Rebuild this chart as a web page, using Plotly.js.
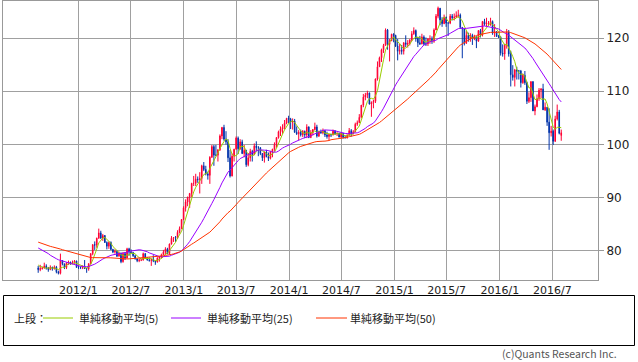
<!DOCTYPE html>
<html>
<head>
<meta charset="utf-8">
<script src="https://cdn.plot.ly/plotly-3.0.1.min.js"></script>
<style>html,body{margin:0;padding:0;background:#fff;}#chart{width:638px;height:362px;}</style>
</head>
<body>
<div id="chart"></div>
<script>
// Weekly USD/JPY candles, first week starting 2011-08-15. Rows: [open, high, low, close]
var firstWeek = '2011-08-15';
var ohlc2011 = [
[76.8,77.2,75.9,76.5],[76.5,77.4,76.2,76.7],[76.7,77.0,76.5,76.8],[76.8,77.8,76.7,77.2],
[77.2,77.5,76.5,76.8],[76.8,77.0,76.1,76.5],[76.5,77.3,76.4,77.0],[77.0,77.0,76.3,76.7],
[76.7,77.3,76.5,77.0],[77.0,77.2,75.8,76.1],[76.1,76.3,75.6,75.8],[75.8,79.5,75.6,78.2],
[78.2,78.3,77.3,77.6],[77.6,77.6,76.6,76.9],[76.9,77.9,76.6,77.7],[77.7,78.2,77.4,77.9],
[77.9,78.0,77.4,77.7],[77.7,78.2,77.5,77.8],[77.8,78.3,77.6,78.1],[78.1,78.2,76.9,76.9]
];
var ohlc2012 = [
[76.9,77.3,76.6,76.9],[76.9,77.1,76.6,76.9],[76.9,77.3,76.6,77.0],[77.0,78.3,76.9,76.7],
[76.7,76.8,75.9,76.6],[76.6,77.7,76.3,77.6],[77.6,79.6,77.5,79.5],[79.5,81.2,79.2,81.2],
[81.2,81.8,80.2,81.1],[81.1,82.5,80.6,82.4],[82.4,84.2,82.3,83.4],[83.4,83.8,82.3,82.4],
[82.4,83.2,81.9,82.9],[82.9,83.0,81.5,81.6],[81.6,81.8,80.3,80.9],[80.9,81.8,80.4,81.6],
[81.6,81.8,80.2,80.3],[80.3,80.4,79.6,79.8],[79.8,80.3,79.5,79.9],[79.9,80.1,78.9,79.0],
[79.0,79.9,79.0,79.6],[79.6,79.7,77.7,78.0],[78.0,79.8,77.8,79.5],[79.5,79.8,78.3,78.7],
[78.7,80.6,78.6,80.4],[80.4,80.6,79.1,79.8],[79.8,80.3,79.5,79.7],[79.7,79.8,78.9,79.1],
[79.1,79.3,78.4,78.5],[78.5,78.6,77.9,78.2],[78.2,78.6,77.9,78.3],[78.3,78.6,78.1,78.3],
[78.3,79.7,78.2,79.5],[79.5,79.6,78.5,78.7],[78.7,78.8,78.2,78.3],[78.3,78.8,78.0,78.2],
[78.2,78.4,77.2,78.4],[78.4,79.2,77.9,78.1],[78.1,78.2,77.4,77.9],[77.9,78.8,77.9,78.7],
[78.7,78.9,78.0,78.9],[78.9,79.5,78.6,79.3],[79.3,80.2,79.2,79.8],[79.8,80.7,79.3,80.4],
[80.4,80.6,79.4,79.5],[79.5,81.4,79.3,81.3],[81.3,82.8,81.2,82.4],[82.4,82.6,81.7,82.5],
[82.5,82.8,81.7,82.4],[82.4,83.9,82.3,83.5],[83.5,84.6,83.3,84.2],[84.2,86.0,84.1,85.9],
[85.9,88.4,85.8,88.1]
];
var ohlc2013 = [
[88.1,89.7,87.4,89.2],[89.2,90.2,88.4,90.1],[90.1,90.9,88.1,90.8],[90.8,92.8,90.1,92.7],
[92.7,94.1,92.2,92.7],[92.7,94.5,92.2,93.5],[93.5,94.0,92.8,93.4],[93.4,94.8,90.8,93.6],
[93.6,96.2,92.6,96.0],[96.0,96.7,95.0,95.3],[95.3,96.0,94.2,94.5],[94.5,94.9,93.4,94.2],
[94.2,97.8,92.6,97.6],[97.6,99.9,97.5,99.6],[99.6,99.9,96.0,98.0],[98.0,99.9,97.8,98.0],
[98.0,99.1,96.8,99.0],[99.0,101.9,98.8,101.6],[101.6,103.3,101.0,103.2],[103.2,103.7,100.7,101.0],
[101.0,102.5,100.0,100.5],[100.5,101.0,96.7,97.5],[97.5,99.0,93.8,94.1],[94.1,98.3,94.0,97.8],
[97.8,99.2,96.8,99.1],[99.1,101.5,99.1,101.2],[101.2,101.5,98.2,99.2],[99.2,101.0,99.0,100.5],
[100.5,100.9,98.2,98.3],[98.3,99.9,97.6,98.9],[98.9,99.0,95.8,96.2],[96.2,98.4,95.9,97.5],
[97.5,99.2,96.8,98.7],[98.7,99.0,96.8,98.1],[98.1,100.2,98.0,99.7],[99.7,100.6,98.8,99.4],
[99.4,99.7,97.8,99.4],[99.4,99.5,98.0,98.3],[98.3,98.4,96.9,97.5],[97.5,98.6,96.6,98.6],
[98.6,99.0,97.6,97.7],[97.7,98.5,96.9,97.4],[97.4,98.7,97.2,98.7],[98.7,99.2,97.6,99.1],
[99.1,100.4,98.8,100.0],[100.0,101.4,99.4,101.3],[101.3,102.6,101.1,102.4],[102.4,103.4,101.6,102.9],
[102.9,103.8,102.0,103.2],[103.2,104.6,102.8,104.0],[104.0,105.0,103.8,104.9],[104.9,105.4,104.0,104.8]
];
var ohlc2014 = [
[104.8,105.0,102.9,104.2],[104.2,104.9,102.8,104.4],[104.4,104.8,102.2,102.3],[102.3,103.4,101.8,102.0],
[102.0,102.7,100.8,102.3],[102.3,102.8,101.5,101.8],[101.8,102.7,101.4,102.5],[102.5,102.6,101.2,101.8],
[101.8,103.8,101.2,103.3],[103.3,103.4,101.2,101.3],[101.3,102.7,101.2,102.2],[102.2,102.9,101.7,102.8],
[102.8,104.1,102.7,103.3],[103.3,103.7,101.3,101.6],[101.6,102.6,101.4,102.4],[102.4,102.8,102.0,102.2],
[102.2,103.0,101.9,102.6],[102.6,102.7,101.4,101.8],[101.8,102.4,101.1,101.5],[101.5,102.0,100.8,101.9],
[101.9,102.0,101.4,101.8],[101.8,102.8,101.7,102.5],[102.5,102.7,101.8,102.0],[102.0,102.3,101.6,102.1],
[102.1,102.2,101.3,101.4],[101.4,102.3,101.2,102.1],[102.1,102.1,101.1,101.3],[101.3,101.7,101.1,101.3],
[101.3,101.9,101.1,101.8],[101.8,103.1,101.6,102.6],[102.6,102.9,101.5,102.0],[102.0,102.7,101.9,102.4],
[102.4,104.1,102.3,103.8],[103.8,104.5,103.5,104.1],[104.1,105.7,104.1,105.1],[105.1,107.4,104.9,107.4],
[107.4,109.5,107.0,108.9],[108.9,109.7,108.3,109.3],[109.3,110.1,108.7,109.7],[109.7,109.7,107.5,107.6],
[107.6,108.1,105.2,107.9],[107.9,108.4,106.8,108.1],[108.1,112.4,107.8,112.3],[112.3,115.6,112.0,114.6],
[114.6,116.5,114.6,116.3],[116.3,118.0,115.5,117.8],[117.8,118.9,117.2,118.6],[118.6,121.8,118.6,121.5],
[121.5,121.7,117.8,118.8],[118.8,119.8,115.6,119.5],[119.5,120.8,119.4,120.7],[120.7,120.9,119.2,120.5]
];
var ohlc2015 = [
[120.5,120.6,118.3,118.5],[118.5,119.8,115.8,117.5],[117.5,118.9,116.9,117.7],[117.7,118.7,116.9,117.5],
[117.5,119.2,116.9,119.1],[119.1,120.5,118.3,118.8],[118.8,119.6,118.2,119.0],[119.0,119.8,118.6,119.6],
[119.6,121.3,119.4,120.8],[120.8,122.0,120.6,121.4],[121.4,121.6,119.3,119.9],[119.9,120.2,118.3,119.1],
[119.1,120.4,118.7,118.9],[118.9,120.8,118.8,120.2],[120.2,120.5,118.6,118.9],[118.9,120.1,118.5,118.9],
[118.9,120.0,118.5,119.8],[119.8,120.5,118.9,119.8],[119.8,120.3,118.9,119.4],[119.4,121.8,119.1,121.5],
[121.5,124.5,121.5,124.1],[124.1,125.9,123.7,125.6],[125.6,125.6,122.4,123.4],[123.4,123.9,122.1,122.7],
[122.7,124.4,122.6,123.9],[123.9,124.0,122.1,122.8],[122.8,123.0,120.4,122.8],[122.8,124.5,122.6,124.1],
[124.1,124.5,123.3,123.8],[123.8,124.6,123.3,123.9],[123.9,125.0,123.8,124.2],[124.2,125.3,123.8,124.3],
[124.3,124.6,121.7,122.0],[122.0,122.0,116.2,121.7],[121.7,121.7,118.6,119.0],[119.0,121.3,118.9,120.5],
[120.5,121.0,119.3,120.0],[120.0,120.9,119.3,120.5],[120.5,120.8,118.7,119.9],[119.9,120.6,119.6,120.2],
[120.2,120.3,118.1,119.4],[119.4,121.5,119.3,121.4],[121.4,121.7,120.1,120.6],[120.6,123.2,120.3,123.1],
[123.1,123.6,122.3,122.6],[122.6,123.8,122.2,122.8],[122.8,123.2,122.3,122.8],[122.8,123.8,122.3,123.1],
[123.1,123.3,120.6,120.9],[120.9,122.6,120.2,121.2],[121.2,121.3,120.2,120.3],[120.3,120.6,120.0,120.2]
];
var ohlc2016 = [
[120.2,120.3,116.7,117.2],[117.2,118.8,116.5,117.0],[117.0,118.9,115.9,118.8],[118.8,121.7,118.0,121.1],
[121.1,121.5,116.5,117.0],[117.0,117.6,110.9,113.1],[113.1,114.9,112.0,112.6],[112.6,114.2,110.9,114.0],
[114.0,114.6,112.2,113.8],[113.8,114.0,112.2,113.8],[113.8,114.0,110.7,111.6],[111.6,113.3,111.4,113.0],
[113.0,113.8,111.2,111.6],[111.6,111.8,107.6,108.1],[108.1,109.8,107.8,108.8],[108.8,111.9,108.0,111.8],
[111.8,111.9,106.3,106.3],[106.3,107.5,105.5,107.1],[107.1,109.4,107.0,108.6],[108.6,110.6,108.2,110.2],
[110.2,110.6,108.7,110.4],[110.4,111.4,106.5,106.5],[106.5,107.9,106.3,107.0],[107.0,107.0,103.5,104.2],
[104.2,106.8,99.0,102.2],[102.2,103.5,101.5,102.5],[102.5,102.8,99.9,100.6],[100.6,105.4,100.5,104.8],
[104.8,107.5,104.5,106.1],[106.1,106.5,101.9,102.1],[101.7,102.8,100.7,102.2]
];
// Weekly closes before the first visible week (Sep 2010 - Aug 2011), used by the moving averages
var priorCloses = [83.9,85.8,84.3,83.3,82.0,81.4,81.4,80.4,81.2,82.5,83.5,84.0,82.5,84.0,83.9,82.9,81.2,
  83.0,82.8,82.5,82.1,82.2,83.4,83.1,81.7,82.3,81.9,80.6,81.5,84.0,84.8,83.1,81.9,81.2,80.6,81.0,81.7,
  80.8,80.0,80.2,80.2,80.4,80.7,81.2,79.1,78.4,76.8,78.4,76.8];
var maPeriods = [5, 25, 50];
var maNames = ['単純移動平均(5)', '単純移動平均(25)', '単純移動平均(50)'];
var maColors = ['#99cc00', '#9900ff', '#ff3300'];
var yTicks = [80, 90, 100, 110, 120];
var xTickVals = ['2012-01-01','2012-07-01','2013-01-01','2013-07-01','2014-01-01','2014-07-01','2015-01-01','2015-07-01','2016-01-01','2016-07-01'];
var xTickText = ['2012/1','2012/7','2013/1','2013/7','2014/1','2014/7','2015/1','2015/7','2016/1','2016/7'];

var rows = [].concat(ohlc2011, ohlc2012, ohlc2013, ohlc2014, ohlc2015, ohlc2016);
var dates = [];
var d0 = new Date(firstWeek + 'T00:00:00Z');
for (var i = 0; i < rows.length; i++) {
  var d = new Date(d0.getTime() + i * 7 * 86400000);
  dates.push(d.toISOString().slice(0, 10));
}
var open = rows.map(function(r){return r[0];});
var high = rows.map(function(r){return r[1];});
var low = rows.map(function(r){return r[2];});
var close = rows.map(function(r){return r[3];});
var allCloses = priorCloses.concat(close);

function movingAverage(n) {
  var out = [];
  for (var i = 0; i < close.length; i++) {
    var end = priorCloses.length + i;
    var s = 0;
    for (var k = end - n + 1; k <= end; k++) s += allCloses[k];
    out.push(s / n);
  }
  return out;
}

var traces = [{
  type: 'candlestick', x: dates, open: open, high: high, low: low, close: close,
  increasing: {line: {color: '#ff0033', width: 1}, fillcolor: '#ff0033'},
  decreasing: {line: {color: '#0033aa', width: 1}, fillcolor: '#0033aa'},
  whiskerwidth: 0, showlegend: false, hoverinfo: 'skip'
}];
for (var m = 0; m < maPeriods.length; m++) {
  traces.push({type: 'scatter', mode: 'lines', x: dates, y: movingAverage(maPeriods[m]),
    name: maNames[m], line: {color: maColors[m], width: 1}, showlegend: false, hoverinfo: 'skip'});
}

// pixel -> paper helpers (plot area: x 3..598, y 1..280)
function px(X){ return (X - 3) / 595; }
function py(Y){ return (280 - Y) / 279; }

var shapes = [
  {type: 'rect', xref: 'paper', yref: 'paper', x0: px(3.5), x1: px(634.5), y0: py(295.5), y1: py(345.5),
   line: {color: '#000000', width: 1}, fillcolor: 'rgba(0,0,0,0)'}
];
var legX = [[43, 73], [171, 201], [316, 347]];
var legTextX = [79, 207, 350];
var annotations = [
  {xref: 'paper', yref: 'paper', x: px(12), y: py(318), xanchor: 'left', yanchor: 'middle',
   text: '上段：', showarrow: false, font: {family: 'Noto Sans CJK JP', size: 11, color: '#222'}},
  {xref: 'paper', yref: 'paper', x: px(618), y: py(353.5), xanchor: 'right', yanchor: 'middle',
   text: '(c)Quants Research Inc.', showarrow: false, borderpad: 0,
   font: {family: 'Noto Sans CJK JP', size: 10.5, color: '#555'}}
];
for (var j = 0; j < maNames.length; j++) {
  shapes.push({type: 'line', xref: 'paper', yref: 'paper', x0: px(legX[j][0]), x1: px(legX[j][1]),
    y0: py(318), y1: py(318), line: {color: maColors[j], width: 1}});
  annotations.push({xref: 'paper', yref: 'paper', x: px(legTextX[j]), y: py(318), xanchor: 'left', yanchor: 'middle',
    text: maNames[j], showarrow: false, xshift: -2, font: {family: 'Noto Sans CJK JP', size: 11, color: '#222'}});
}

var layout = {
  width: 638, height: 362,
  margin: {l: 3, r: 40, t: 1, b: 82, pad: 0},
  paper_bgcolor: '#ffffff', plot_bgcolor: '#ffffff',
  showlegend: false, boxgap: 0.55,
  font: {family: 'Noto Sans CJK JP', size: 11, color: '#222'},
  xaxis: {type: 'date', range: ['2011-04-15', '2016-12-06 10:00'], rangeslider: {visible: false},
    tickmode: 'array', tickvals: xTickVals, ticktext: xTickText,
    showgrid: true, gridcolor: '#a0a0a0', gridwidth: 1, ticks: '',
    showline: true, linecolor: '#999999', linewidth: 1, mirror: true, zeroline: false,
    tickfont: {family: 'DejaVu Sans', size: 11, color: '#222'}, fixedrange: true},
  yaxis: {side: 'right', range: [74.55, 126.95], tickmode: 'array', tickvals: yTicks,
    showgrid: true, gridcolor: '#a0a0a0', gridwidth: 1, ticks: 'outside', ticklen: 5, tickcolor: '#999999',
    showline: true, linecolor: '#999999', linewidth: 1, mirror: true, zeroline: false,
    tickfont: {family: 'DejaVu Sans', size: 12, color: '#222'}, fixedrange: true},
  shapes: shapes, annotations: annotations
};
Plotly.newPlot('chart', traces, layout, {staticPlot: true, displayModeBar: false});
</script>
</body>
</html>
